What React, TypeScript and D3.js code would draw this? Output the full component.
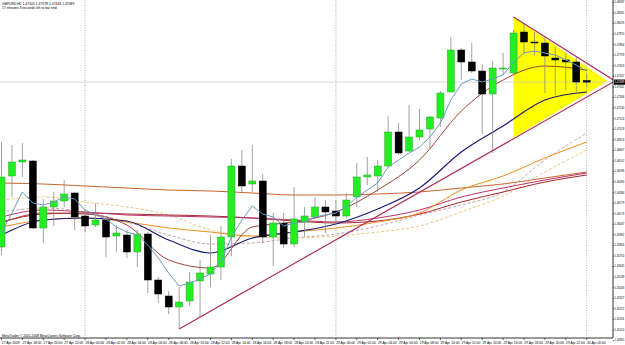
import * as d3 from "d3";

// GBPUSD H1, 27 Apr 2009 16:00 .. 30 Apr 2009 00:00
const opens = [
  1.4584, 1.4655, 1.4669, 1.467, 1.4603, 1.4624, 1.463, 1.4638, 1.4615, 1.4606,
  1.4611, 1.4595, 1.4596, 1.4579, 1.4597, 1.4551, 1.4535, 1.4524, 1.453, 1.455,
  1.4557, 1.4564, 1.4594, 1.4665, 1.4647, 1.465, 1.4594, 1.4608, 1.4587, 1.4609,
  1.4614, 1.4624, 1.462, 1.4615, 1.4634, 1.4654, 1.4655, 1.4665, 1.4699, 1.468,
  1.4694, 1.4702, 1.4713, 1.4739, 1.4781, 1.4769, 1.476, 1.4737, 1.4762, 1.4758,
  1.4799, 1.4789, 1.4788, 1.4773, 1.4771, 1.4769, 1.47505,
];
const highs = [
  1.4689, 1.4686, 1.4688, 1.4671, 1.4632, 1.4639, 1.4651, 1.4639, 1.4622, 1.4628,
  1.4613, 1.4606, 1.4601, 1.4601, 1.4599, 1.4554, 1.454, 1.4544, 1.4559, 1.4571,
  1.4596, 1.4605, 1.4672, 1.4681, 1.4686, 1.4657, 1.4618, 1.4618, 1.4644, 1.4624,
  1.4634, 1.4631, 1.4631, 1.4638, 1.4668, 1.4674, 1.4671, 1.4715, 1.4708, 1.4726,
  1.4722, 1.4715, 1.474, 1.4794, 1.4783, 1.4788, 1.4767, 1.477, 1.4778, 1.4801,
  1.4808, 1.4799, 1.4794, 1.4784, 1.4779, 1.4774, 1.47578,
];
const lows = [
  1.4576, 1.4634, 1.4654, 1.4602, 1.4588, 1.4605, 1.4624, 1.4601, 1.4599, 1.4604,
  1.4574, 1.4579, 1.4573, 1.4564, 1.4538, 1.4528, 1.4517, 1.4502, 1.4525, 1.4514,
  1.4544, 1.4551, 1.4575, 1.4639, 1.4639, 1.4588, 1.4565, 1.4583, 1.4584, 1.4594,
  1.4612, 1.4598, 1.4606, 1.4613, 1.4624, 1.4646, 1.4639, 1.4664, 1.4676, 1.4679,
  1.4691, 1.4683, 1.4704, 1.4739, 1.4751, 1.4758, 1.4697, 1.4678, 1.4756, 1.4757,
  1.4778, 1.4776, 1.4738, 1.4736, 1.4741, 1.4739, 1.47443,
];
const closes = [
  1.4654, 1.4669, 1.4671, 1.4603, 1.4624, 1.463, 1.4637, 1.4614, 1.4605, 1.4611,
  1.4594, 1.4598, 1.4579, 1.4597, 1.4551, 1.4537, 1.4524, 1.4529, 1.4549, 1.4558,
  1.4564, 1.4594, 1.4665, 1.4645, 1.465, 1.4594, 1.4608, 1.4587, 1.4612, 1.4615,
  1.4624, 1.4619, 1.4615, 1.4631, 1.4654, 1.4656, 1.4665, 1.4699, 1.4678, 1.4694,
  1.4701, 1.4714, 1.4738, 1.4781, 1.4769, 1.476, 1.4737, 1.4763, 1.4763, 1.4798,
  1.4789, 1.4788, 1.4775, 1.4771, 1.4769, 1.4749, 1.47489,
];

// fast MA, one value per bar
const maFast = [
  1.4598, 1.4618, 1.4639, 1.4628, 1.4626, 1.4629, 1.4634, 1.4632, 1.4621, 1.4616,
  1.4612, 1.4604, 1.4599, 1.4596, 1.4586, 1.4573, 1.4558, 1.4545, 1.4548, 1.4552,
  1.4557, 1.4569, 1.4594, 1.4611, 1.4625, 1.4617, 1.4614, 1.4605, 1.4608, 1.4609,
  1.4614, 1.4616, 1.4618, 1.4624, 1.4634, 1.4641, 1.4648, 1.4664, 1.4671, 1.4678,
  1.4684, 1.4694, 1.4708, 1.4731, 1.4747, 1.4752, 1.4749, 1.4752, 1.4756, 1.4769,
  1.4778, 1.478, 1.4778, 1.4776, 1.4771, 1.4766, 1.476,
];

// slower MAs, read every 4th bar
const maBars = [0, 4, 8, 12, 16, 20, 24, 28, 32, 36, 40, 44, 48, 52, 56];
const maBrown = [1.4608, 1.4618, 1.4617, 1.4606, 1.4571, 1.4563, 1.4604, 1.4609, 1.4619, 1.4641, 1.4671, 1.472, 1.4751, 1.4765, 1.4761];
const maNavy = [1.4596, 1.4611, 1.4613, 1.461, 1.4591, 1.4578, 1.4593, 1.4599, 1.4607, 1.4622, 1.4643, 1.4679, 1.4705, 1.4731, 1.4739];
const maCrimson = [1.4614, 1.4621, 1.4619, 1.4616, 1.4615, 1.4614, 1.4613, 1.4611, 1.4609, 1.4613, 1.4621, 1.4634, 1.4643, 1.4651, 1.4658];
const maDarkRed = [1.4609, 1.4617, 1.4618, 1.4617, 1.4616, 1.4615, 1.4613, 1.461, 1.4608, 1.461, 1.4617, 1.4629, 1.4639, 1.4649, 1.4656];
const maOrange = [1.4604, 1.4611, 1.4613, 1.4609, 1.4603, 1.4599, 1.4595, 1.4599, 1.4603, 1.4609, 1.4618, 1.4641, 1.4655, 1.4673, 1.4689];
const maPeach = [1.4631, 1.4634, 1.4629, 1.4624, 1.4616, 1.4601, 1.4594, 1.4593, 1.4595, 1.4599, 1.4605, 1.4619, 1.4635, 1.4659, 1.4681];
const maGrey = [1.4619, 1.4623, 1.4619, 1.4609, 1.4596, 1.4587, 1.4588, 1.4593, 1.4597, 1.4605, 1.4616, 1.4626, 1.4639, 1.4671, 1.4698];
const maLong = [1.4648, 1.4647, 1.4645, 1.4643, 1.4641, 1.464, 1.4638, 1.4636, 1.4636, 1.4637, 1.4639, 1.4643, 1.4647, 1.4653, 1.4659];

// objects drawn on the chart: [bar, price]
const trendLow = [[17, 1.4502], [58.7, 1.475]];
const trendHigh = [[49, 1.4814], [58.7, 1.475]];
const triangle = [[49, 1.4814], [58.0, 1.475], [49, 1.4693]];
const separators = [8, 32, 56];

const priceTicks = [
  1.48287, 1.48181, 1.48076, 1.4797, 1.47864, 1.47759, 1.47653, 1.47547, 1.47441, 1.47336,
  1.4723, 1.47124, 1.47019, 1.46913, 1.46807, 1.46702, 1.46596, 1.4649, 1.46384, 1.46279,
  1.46173, 1.46067, 1.45962, 1.45856, 1.4575, 1.45645, 1.45539, 1.45433, 1.45327, 1.45222,
  1.45116, 1.4501, 1.44905,
];
const timeLabels = [
  "27 Apr 2009", "27 Apr 18:00", "27 Apr 20:00", "27 Apr 22:00",
  "28 Apr 00:00", "28 Apr 02:00", "28 Apr 04:00", "28 Apr 06:00", "28 Apr 08:00",
  "28 Apr 10:00", "28 Apr 12:00", "28 Apr 14:00", "28 Apr 16:00", "28 Apr 18:00",
  "28 Apr 20:00", "28 Apr 22:00", "29 Apr 00:00", "29 Apr 02:00", "29 Apr 04:00",
  "29 Apr 06:00", "29 Apr 08:00", "29 Apr 10:00", "29 Apr 12:00", "29 Apr 14:00",
  "29 Apr 16:00", "29 Apr 18:00", "29 Apr 20:00", "29 Apr 22:00", "30 Apr 00:00",
];

const W = 625,
  H = 345,
  plotRight = 613,
  plotBottom = 338;
const font = "'Liberation Sans', Arial, sans-serif";

const App = () => {
  const x = d3.scaleLinear().domain([0, 56]).range([1.5, 586.7]);
  const y = d3.scaleLinear().domain([1.4831, 1.4491]).range([0, 340]);
  const bodyW = 7;

  const fastLine = d3
    .line<number>()
    .x((_, i) => x(i))
    .y((d) => y(d));
  const slowLine = d3
    .line<number>()
    .x((_, i) => x(maBars[i]))
    .y((d) => y(d))
    .curve(d3.curveMonotoneX);
  const ptLine = d3
    .line<number[]>()
    .x((d) => x(d[0]))
    .y((d) => y(d[1]));

  const slow = [
    { v: maLong, c: "#c8642d", w: 1, dash: undefined },
    { v: maPeach, c: "#f3c47e", w: 1, dash: "3,2" },
    { v: maGrey, c: "#c8a2ac", w: 1, dash: "3,2" },
    { v: maDarkRed, c: "#a82828", w: 1, dash: undefined },
    { v: maCrimson, c: "#b8336a", w: 1, dash: undefined },
    { v: maOrange, c: "#ee8e1e", w: 1, dash: undefined },
    { v: maNavy, c: "#1a1a7a", w: 1.2, dash: undefined },
    { v: maBrown, c: "#a0403a", w: 1, dash: undefined },
  ];

  const last = closes[closes.length - 1];

  return (
    <svg
      width={W}
      height={H}
      style={{ position: "absolute", left: 0, top: 0, background: "#fff" }}
      fontFamily={font}
    >
      <clipPath id="plot">
        <rect x={0} y={0} width={plotRight} height={plotBottom} />
      </clipPath>

      <g clipPath="url(#plot)">
        <path
          d={ptLine(triangle as number[][]) + "Z"}
          fill="#ffff00"
          stroke="none"
        />

        {separators.map((b) => (
          <line
            key={b}
            x1={x(b)}
            x2={x(b)}
            y1={0}
            y2={plotBottom}
            stroke="#888"
            strokeWidth={0.7}
            strokeDasharray="1,1.5"
          />
        ))}

        <line
          x1={0}
          x2={plotRight}
          y1={y(last)}
          y2={y(last)}
          stroke="#c8c8c8"
          strokeWidth={0.7}
        />

        {slow.map((m, i) => (
          <path
            key={i}
            d={slowLine(m.v) ?? ""}
            fill="none"
            stroke={m.c}
            strokeWidth={m.w}
            strokeDasharray={m.dash}
          />
        ))}

        {opens.map((o, i) => {
          const c = closes[i];
          const bull = c >= o;
          const top = y(Math.max(o, c));
          const h = Math.max(1, y(Math.min(o, c)) - top);
          return (
            <g key={i}>
              <line
                x1={x(i)}
                x2={x(i)}
                y1={y(highs[i])}
                y2={y(lows[i])}
                stroke="#8a8a8a"
                strokeWidth={0.8}
              />
              <rect
                x={x(i) - bodyW / 2}
                y={top}
                width={bodyW}
                height={h}
                fill={bull ? "#22ee22" : "#000"}
                stroke={bull ? "#2aa52a" : "#000"}
                strokeWidth={0.5}
              />
            </g>
          );
        })}

        <path d={fastLine(maFast) ?? ""} fill="none" stroke="#6b9bc3" strokeWidth={1} />

        <path d={ptLine(trendLow) ?? ""} fill="none" stroke="#b03058" strokeWidth={1.2} />
        <path d={ptLine(trendHigh) ?? ""} fill="none" stroke="#b03058" strokeWidth={1.2} />
      </g>

      {/* header */}
      <text x={2} y={5.3} fontSize={3.4} fill="#000">
        GBPUSD,H1  1.47505 1.47578 1.47443 1.47489
      </text>
      <text x={2} y={9.4} fontSize={3.4} fill="#000">
        17 minutes 3 seconds left to bar end
      </text>
      <text x={2} y={336.8} fontSize={3.3} fill="#000">
        MetaTrader © 2001-2008 MetaQuotes Software Corp.
      </text>

      {/* price axis */}
      <line x1={plotRight} x2={plotRight} y1={0} y2={plotBottom} stroke="#000" strokeWidth={0.8} />
      {priceTicks.map((p) => (
        <g key={p}>
          <line x1={plotRight} x2={plotRight + 1.2} y1={y(p)} y2={y(p)} stroke="#000" strokeWidth={0.6} />
          <text x={plotRight + 1.5} y={y(p)} dy="0.35em" fontSize={2.7} fill="#000">
            {p.toFixed(5)}
          </text>
        </g>
      ))}
      <rect x={plotRight + 1} y={y(last) - 2.6} width={11} height={5.2} fill="#000" />
      <text x={plotRight + 1.5} y={y(last)} dy="0.35em" fontSize={2.7} fill="#fff">
        {last.toFixed(5)}
      </text>

      {/* time axis */}
      <line x1={0} x2={plotRight} y1={plotBottom} y2={plotBottom} stroke="#000" strokeWidth={0.8} />
      {timeLabels.map((t, i) => (
        <g key={t}>
          <line x1={x(i * 2)} x2={x(i * 2)} y1={plotBottom} y2={plotBottom + 2} stroke="#000" strokeWidth={0.6} />
          <text x={x(i * 2) + 0.3} y={343.6} fontSize={3.3} fill="#000">
            {t}
          </text>
        </g>
      ))}
    </svg>
  );
};

export default App;
